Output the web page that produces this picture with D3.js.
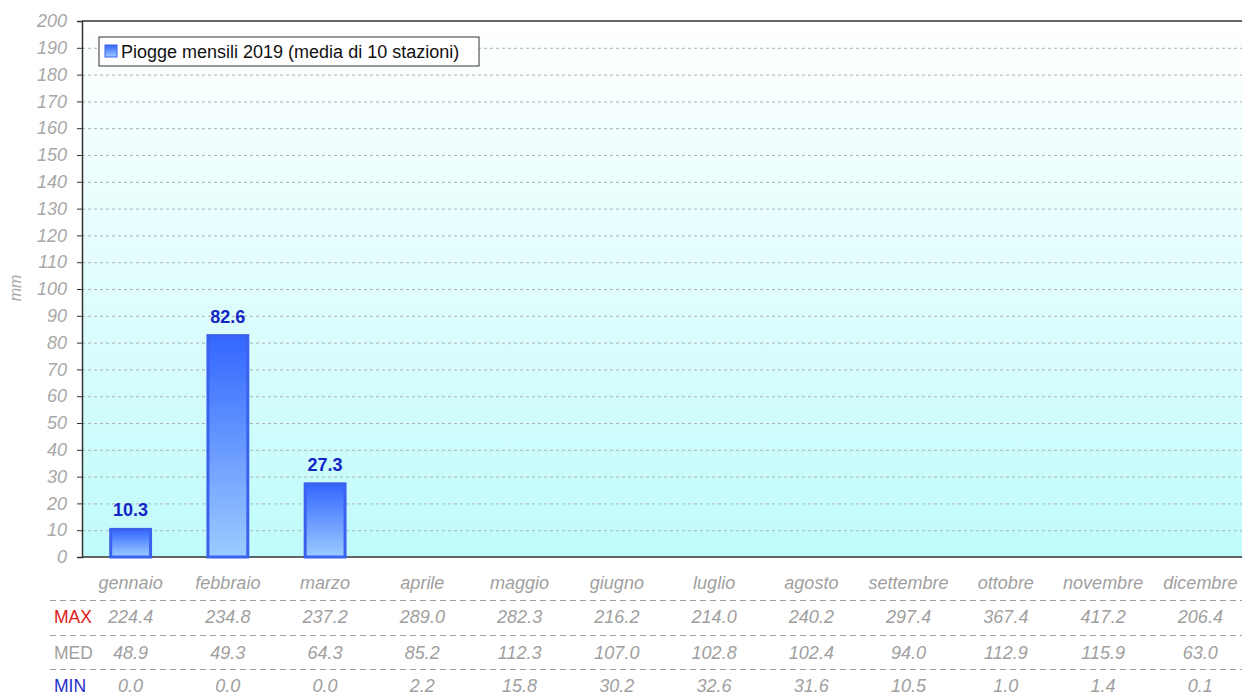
<!DOCTYPE html>
<meta charset="utf-8">
<style>
body { margin: 0; background: #fff; }
text { font-family: Arial, "Liberation Sans", sans-serif; }
.tick_label { font-size: 18px; font-style: italic; fill: #a8a8a8; }
.cell { font-size: 18px; font-style: italic; fill: #a0a0a0; }
</style>
<svg width="1242" height="695"></svg>
<script src="https://d3js.org/d3.v7.min.js"></script>
<script>

var months = ["gennaio", "febbraio", "marzo", "aprile", "maggio", "giugno",
              "luglio", "agosto", "settembre", "ottobre", "novembre", "dicembre"];
var rain2019 = [10.3, 82.6, 27.3, null, null, null, null, null, null, null, null, null];
var maxVals = [224.4, 234.8, 237.2, 289.0, 282.3, 216.2, 214.0, 240.2, 297.4, 367.4, 417.2, 206.4];
var medVals = [48.9, 49.3, 64.3, 85.2, 112.3, 107.0, 102.8, 102.4, 94.0, 112.9, 115.9, 63.0];
var minVals = [0.0, 0.0, 0.0, 2.2, 15.8, 30.2, 32.6, 31.6, 10.5, 1.0, 1.4, 0.1];
var yTicks = d3.range(0, 201, 10);
var legendLabel = "Piogge mensili 2019 (media di 10 stazioni)";

var svg = d3.select("svg"),
    plotLeft = 82, plotTop = 21, plotBottom = 557, plotRight = 1249;

var x = d3.scaleBand()
    .domain(months)
    .range([plotLeft, plotRight])
    .paddingInner(0.59)
    .paddingOuter(0.295);

var y = d3.scaleLinear()
    .domain([0, 200])
    .range([plotBottom, plotTop]);

var defs = svg.append("defs");

var bg = defs.append("linearGradient")
    .attr("id", "bg").attr("x1", 0).attr("y1", 0).attr("x2", 0).attr("y2", 1);
bg.append("stop").attr("offset", "0%").attr("stop-color", "#ffffff");
bg.append("stop").attr("offset", "100%").attr("stop-color", "#c0fbfb");

var barGrad = defs.append("linearGradient")
    .attr("id", "bar").attr("x1", 0).attr("y1", 0).attr("x2", 0).attr("y2", 1);
barGrad.append("stop").attr("offset", "0%").attr("stop-color", "#3366ff");
barGrad.append("stop").attr("offset", "100%").attr("stop-color", "#9cccff");

// plot background
svg.append("rect")
    .attr("x", plotLeft).attr("y", plotTop)
    .attr("width", 1242 - plotLeft).attr("height", plotBottom - plotTop)
    .attr("fill", "url(#bg)");

// grid
svg.append("g")
  .selectAll("line")
  .data(yTicks.filter(function(d) { return d > 0 && d < 200; }))
  .enter().append("line")
    .attr("x1", plotLeft).attr("x2", 1242)
    .attr("y1", function(d) { return y(d) + 0.5; })
    .attr("y2", function(d) { return y(d) + 0.5; })
    .attr("stroke", "#b0b0b0")
    .attr("stroke-dasharray", "3,3");

// y axis
var yAxis = svg.append("g")
    .attr("transform", "translate(" + plotLeft + ",0)")
    .call(d3.axisLeft(y).tickValues(yTicks).tickSize(5).tickPadding(10));
yAxis.attr("font-family", null).attr("font-size", null);
yAxis.select(".domain").attr("stroke", "#333").attr("stroke-width", 1.5);
yAxis.selectAll(".tick line").attr("stroke", "#333");
yAxis.selectAll(".tick text")
    .attr("class", "tick_label")
    .attr("fill", null);

// top border and x baseline
svg.append("line")
    .attr("x1", plotLeft).attr("x2", 1242)
    .attr("y1", plotTop).attr("y2", plotTop)
    .attr("stroke", "#333").attr("stroke-width", 1.5);
svg.append("line")
    .attr("x1", plotLeft).attr("x2", 1242)
    .attr("y1", plotBottom).attr("y2", plotBottom)
    .attr("stroke", "#333").attr("stroke-width", 1.5);

svg.append("text")
    .attr("class", "tick_label")
    .attr("transform", "translate(21,288) rotate(-90)")
    .attr("text-anchor", "middle")
    .style("font-size", "16px")
    .text("mm");

// bars
var filled = months.map(function(m, i) { return {month: m, value: rain2019[i]}; })
    .filter(function(d) { return d.value != null; });

svg.append("g")
  .selectAll("rect")
  .data(filled)
  .enter().append("rect")
    .attr("x", function(d) { return x(d.month); })
    .attr("y", function(d) { return y(d.value); })
    .attr("width", x.bandwidth())
    .attr("height", function(d) { return plotBottom - y(d.value); })
    .attr("fill", "url(#bar)")
    .attr("stroke", "#3a62ee")
    .attr("stroke-width", 3);

svg.append("g")
  .selectAll("text")
  .data(filled)
  .enter().append("text")
    .attr("x", function(d) { return x(d.month) + x.bandwidth() / 2; })
    .attr("y", function(d) { return y(d.value) - 13; })
    .attr("text-anchor", "middle")
    .style("font-size", "18px")
    .style("font-weight", "bold")
    .style("fill", "#1326c4")
    .text(function(d) { return d.value.toFixed(1); });

// month labels
svg.append("g")
  .selectAll("text")
  .data(months)
  .enter().append("text")
    .attr("class", "cell")
    .attr("x", function(d) { return x(d) + x.bandwidth() / 2; })
    .attr("y", 589)
    .attr("text-anchor", "middle")
    .text(function(d) { return d; });

// table rows
var rows = [
  {label: "MAX", color: "#dd1a1a", values: maxVals, y: 623},
  {label: "MED", color: "#a0a0a0", values: medVals, y: 659},
  {label: "MIN", color: "#1f2fcc", values: minVals, y: 692}
];

[600, 635, 669].forEach(function(ly) {
  svg.append("line")
      .attr("x1", 50).attr("x2", 1242)
      .attr("y1", ly + 0.5).attr("y2", ly + 0.5)
      .attr("stroke", "#a0a0a0")
      .attr("stroke-dasharray", "6,4");
});

rows.forEach(function(row) {
  svg.append("text")
      .attr("x", 54).attr("y", row.y)
      .style("font-size", "17.5px")
      .style("fill", row.color)
      .text(row.label);
  svg.append("g")
    .selectAll("text")
    .data(row.values)
    .enter().append("text")
      .attr("class", "cell")
      .attr("x", function(d, i) { return x(months[i]) + x.bandwidth() / 2; })
      .attr("y", row.y)
      .attr("text-anchor", "middle")
      .text(function(d) { return d.toFixed(1); });
});

// legend
var legend = svg.append("g").attr("transform", "translate(99,37)");
legend.append("rect")
    .attr("width", 380).attr("height", 29)
    .attr("fill", "#fff")
    .attr("stroke", "#333");
legend.append("rect")
    .attr("x", 6).attr("y", 8)
    .attr("width", 12).attr("height", 12)
    .attr("fill", "url(#bar)")
    .attr("stroke", "#3a62ee");
legend.append("text")
    .attr("x", 22).attr("y", 21)
    .style("font-size", "18px")
    .style("fill", "#111")
    .text(legendLabel);

</script>
